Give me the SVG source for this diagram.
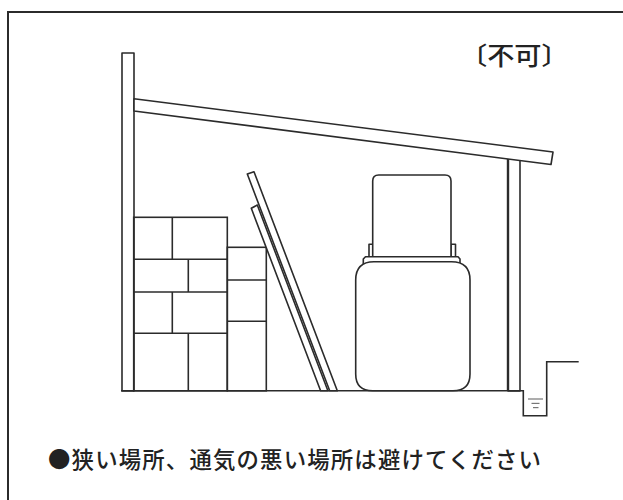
<svg xmlns="http://www.w3.org/2000/svg" width="623" height="500" viewBox="0 0 623 500">
  <style>
    .ln { fill: none; stroke: #2b2b2b; stroke-width: 1.6; stroke-linejoin: miter; }
    .sh { fill: #ffffff; stroke: #2b2b2b; stroke-width: 1.6; stroke-linejoin: round; }
    .water { fill: none; stroke: #777777; stroke-width: 1.2; }
    .txt { font-family: "Noto Sans CJK JP", "Noto Sans", sans-serif; fill: #222222; font-weight: 500; }
  </style>

  <!-- outer frame (open to the right and bottom) -->
  <g id="frame">
    <rect x="0" y="0" width="623" height="500" fill="#ffffff"/>
    <path d="M8,500 V12 H623" fill="none" stroke="#2b2b2b" stroke-width="2"/>
  </g>

  <!-- shed structure -->
  <g id="shed">
    <!-- left post -->
    <rect class="sh" x="122" y="53" width="12" height="338"/>
    <!-- right post -->
    <rect class="sh" x="508" y="158" width="12" height="233"/>
    <line x1="508" y1="158" x2="508" y2="391" stroke="#2b2b2b" stroke-width="2.4"/>
    <!-- sloping roof -->
    <polygon class="sh" points="134,98.7 553,152 551,164.5 134,111"/>
    <!-- floor and drain gutter -->
    <polyline class="ln" points="121,390.8 523.3,390.8 523.3,415.7 546.7,415.7 546.7,361.7 578.7,361.7"/>
  </g>

  <!-- water in gutter -->
  <g id="water">
    <line class="water" x1="528" y1="399" x2="543" y2="399"/>
    <line class="water" x1="531.5" y1="403.4" x2="539.5" y2="403.4"/>
    <line class="water" x1="533" y1="407.6" x2="538.5" y2="407.6"/>
  </g>

  <!-- stacked boxes -->
  <g id="boxes">
    <rect class="ln" x="133.7" y="217.3" width="93.6" height="173.5"/>
    <line class="ln" x1="133.7" y1="259.3" x2="227.3" y2="259.3"/>
    <line class="ln" x1="133.7" y1="292" x2="227.3" y2="292"/>
    <line class="ln" x1="133.7" y1="333.3" x2="227.3" y2="333.3"/>
    <line class="ln" x1="172.3" y1="217.3" x2="172.3" y2="259.3"/>
    <line class="ln" x1="188.3" y1="259.3" x2="188.3" y2="292"/>
    <line class="ln" x1="172.3" y1="292" x2="172.3" y2="333.3"/>
    <line class="ln" x1="188.3" y1="333.3" x2="188.3" y2="390.8"/>
    <rect class="ln" x="227.3" y="247.3" width="39" height="143.5"/>
    <line class="ln" x1="227.3" y1="280" x2="266.3" y2="280"/>
    <line class="ln" x1="227.3" y1="321.3" x2="266.3" y2="321.3"/>
  </g>

  <!-- boards leaning on the boxes -->
  <g id="boards">
    <polygon class="sh" points="247.3,174 254,171.7 337.3,390.8 329.7,390.8"/>
    <polygon class="sh" points="251.3,208.3 257.3,205 327.9,390.8 320.6,390.8"/>
  </g>

  <!-- fuel tank -->
  <g id="tank">
    <rect class="sh" x="369" y="244.3" width="4.5" height="14"/>
    <rect class="sh" x="451" y="244.3" width="4.5" height="14"/>
    <path class="sh" d="M372.7,258 V181 Q372.7,175 378.7,175 H445 Q451,175 451,181 V258 Z"/>
    <path class="sh" d="M363.3,272 V259 L365.5,256.7 H458 L460,259 V272 Z"/>
    <path class="sh" d="M355.7,280 Q355.7,261.7 374,261.7 H451.5 Q470,261.7 470,280 V374 Q470,390.8 453,390.8 H372.7 Q355.7,390.8 355.7,374 Z"/>
  </g>

  <!-- labels -->
  <g id="labels">
    <text class="txt" transform="translate(460,64.5) scale(1.11,1)" x="0" y="0" font-size="24.5">〔不可〕</text>
    <text class="txt" x="48" y="468" font-size="22.4" textLength="493" lengthAdjust="spacing">●狭い場所、通気の悪い場所は避けてください</text>
  </g>
</svg>
